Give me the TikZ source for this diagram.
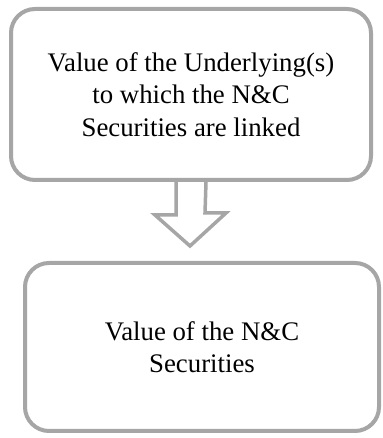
\documentclass[tikz,border=0pt]{standalone}
\usepackage{fontspec}
\setmainfont{Liberation Serif}
\definecolor{boxgray}{RGB}{166,166,166}
\tikzset{
  valuebox/.style={draw=boxgray, line width=4pt, rounded corners=24pt,
    fill=white, align=center, inner sep=0pt,
    font=\fontsize{26.8}{32.5}\selectfont},
  hollowarrow/.style={draw=boxgray, line width=3.5pt, line join=miter}
}
\begin{document}
\begin{tikzpicture}[x=1pt, y=1pt]
    \useasboundingbox (0,0) rectangle (382,438);
    % upper box
    \node[valuebox, minimum width=360pt, minimum height=171pt]
        (underlying) at (191,343.5)
        {Value of the Underlying(s)\\to which the N\&C\\Securities are linked};
    % lower box
    \node[valuebox, minimum width=354pt, minimum height=168pt]
        (securities) at (202,91)
        {Value of the N\&C\\Securities};
    % hollow arrow
    \coordinate (tip) at (190,192);
    \draw[hollowarrow]
        ([xshift=-15pt]underlying.south) -- ++(0,-33) -- ++(-21,0)
        -- (tip) -- ++(36,33) -- ++(-21,0)
        -- ([xshift=15pt]underlying.south);
\end{tikzpicture}
\end{document}
